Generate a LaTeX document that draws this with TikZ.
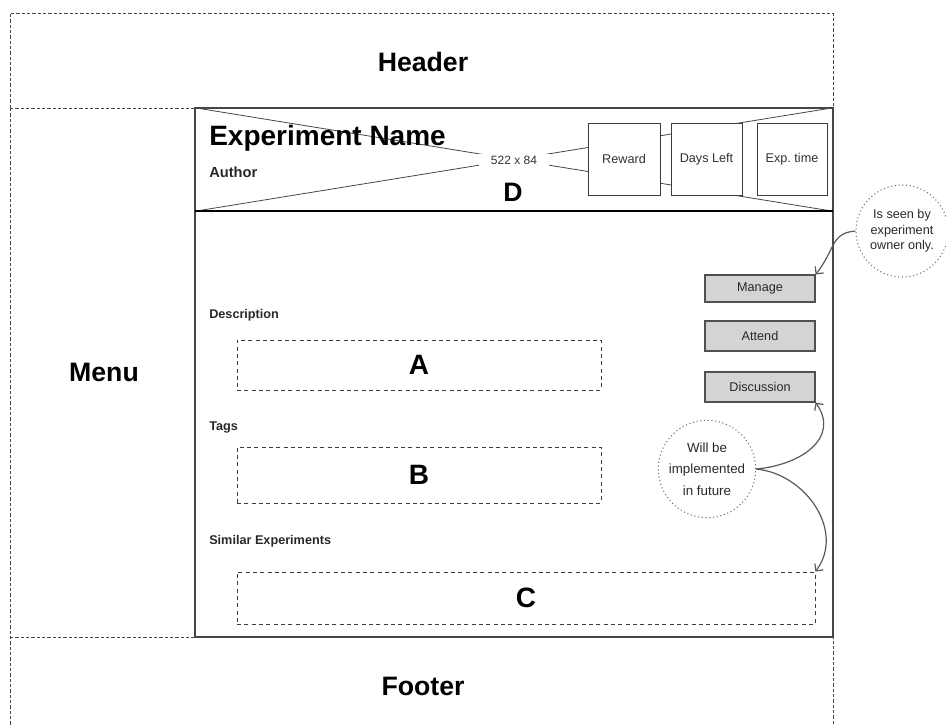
\documentclass[tikz,border=0pt]{standalone}
\usepackage{fontspec}
\setmainfont{Liberation Sans}
\usetikzlibrary{fit,arrows.meta}

\begin{document}
\begin{tikzpicture}[x=0.75pt,y=0.75pt,yscale=-1,xscale=1,
  frame/.style={draw={rgb, 255:red, 70; green, 70; blue, 70 }, line width=0.6pt},
  dashframe/.style={frame, dash pattern=on 2.5pt off 1.5pt},
  areabox/.style={draw={rgb, 255:red, 60; green, 60; blue, 60 }, dash pattern=on 3pt off 2.5pt, line width=0.6pt, inner sep=0pt, font=\fontsize{21}{24}\selectfont\bfseries},
  tilebox/.style={draw={rgb, 255:red, 60; green, 60; blue, 60 }, fill=white, inner sep=0pt, font=\fontsize{9.5}{11}\selectfont, text={rgb, 255:red, 50; green, 50; blue, 50 }},
  btn/.style={draw={rgb, 255:red, 80; green, 80; blue, 80 }, fill={rgb, 255:red, 212; green, 212; blue, 212 }, line width=0.8pt, inner sep=0pt, minimum width=82.5pt, font=\fontsize{9.5}{11}\selectfont, text={rgb, 255:red, 40; green, 40; blue, 40 }},
  note/.style={circle, draw={rgb, 255:red, 110; green, 110; blue, 110 }, dotted, line width=0.8pt, align=center, inner sep=0pt, text={rgb, 255:red, 40; green, 40; blue, 40 }},
  notearrow/.style={draw={rgb, 255:red, 90; green, 90; blue, 90 }, line width=0.9pt, -{Straight Barb[length=4pt]}},
  bigtext/.style={font=\fontsize{20}{24}\selectfont\bfseries},
  smalltext/.style={anchor=west, inner sep=0pt, font=\fontsize{9.5}{11}\selectfont\bfseries, text={rgb, 255:red, 40; green, 40; blue, 40 }}
]
\useasboundingbox (0,0) rectangle (946,726);

%Shape: Header, Menu, Footer frame
\draw [dashframe] (10,108) -- (10,13) -- (833,13) -- (833,108) ;
\draw [dashframe] (10,108) -- (195,108) ;
\draw [frame, line width=1pt] (195,108) -- (833,108) ;
\draw [dashframe] (10,108) -- (10,726) ;
\draw [dashframe] (10,637) -- (833,637) -- (833,726) ;
%Shape: Content
\draw [frame, line width=0.8pt] (195,108) rectangle (833,637) ;

% Text Node
\node (header) [bigtext] at (423,62) {Header};
% Text Node
\node (menu) [bigtext] at (104,372) {Menu};
% Text Node
\node (footer) [bigtext] at (423,686) {Footer};

%Shape: Banner placeholder
\node (banner) [fit={(195,108) (833,211)}, inner sep=0pt] {};
\draw [frame] (banner.north west) -- (banner.south east) ;
\draw [frame] (banner.south west) -- (banner.north east) ;
\draw [line width=1.6pt] (banner.south west) -- (banner.south east) ;

% Text Node
\node (size) [fill=white, inner xsep=9pt, inner ysep=1pt, font=\fontsize{9}{10}\selectfont, text={rgb, 255:red, 50; green, 50; blue, 50 }] at (514,160) {522 x 84};
% Text Node
\node (title) [anchor=west, inner sep=0pt, font=\fontsize{21}{24}\selectfont\bfseries] at (209,138) {Experiment Name};
% Text Node
\node (author) [smalltext, font=\fontsize{11}{12}\selectfont\bfseries] at (209,172) {Author};
% Text Node
\node (dlabel) [font=\fontsize{20}{24}\selectfont\bfseries] at (513,192) {D};

%Shape: Tiles
\node (reward) [tilebox, minimum width=54pt, minimum height=54pt] at (624,159) {Reward};
\node (daysleft) [tilebox, minimum width=53.25pt, minimum height=54pt] at (706.5,159) {Days Left};
\node (exptime) [tilebox, minimum width=52.5pt, minimum height=54pt] at (792,159) {Exp.\ time};

% Text Node
\node (desclabel) [smalltext] at (209,315) {Description};
\node (tagslabel) [smalltext] at (209,427) {Tags};
\node (simlabel) [smalltext] at (209,541) {Similar Experiments};

%Shape: Areas
\node (desc) [areabox, minimum width=273pt, minimum height=37.5pt] at (419,365) {A};
\node (tags) [areabox, minimum width=273pt, minimum height=42pt] at (419,475) {B};
\node (similar) [areabox, minimum width=433.5pt, minimum height=39pt] at (526,598) {C};

%Shape: Buttons
\node (manage) [btn, minimum height=20.25pt] at (760,288.5) {Manage};
\node (attend) [btn, minimum height=22.5pt] at (760,336) {Attend};
\node (discussion) [btn, minimum height=22.5pt] at (760,387) {Discussion};

%Shape: Notes
\node (seen) [note, minimum size=69pt, font=\fontsize{9.5}{11.6}\selectfont] at (902,231) {Is seen by\\experiment\\owner only.};
\node (future) [note, minimum size=73pt, font=\fontsize{10}{16}\selectfont] at (707,469) {Will be\\implemented\\in future};

% Arrows
\draw [notearrow] (seen.west) .. controls +(-25,2) and +(20,-25) .. (manage.north east) ;
\draw [notearrow] (future.east) .. controls +(45,-4) and +(25,35) .. (discussion.south east) ;
\draw [notearrow] (future.east) .. controls +(50,5) and +(30,-40) .. (similar.north east) ;
\end{tikzpicture}
\end{document}
